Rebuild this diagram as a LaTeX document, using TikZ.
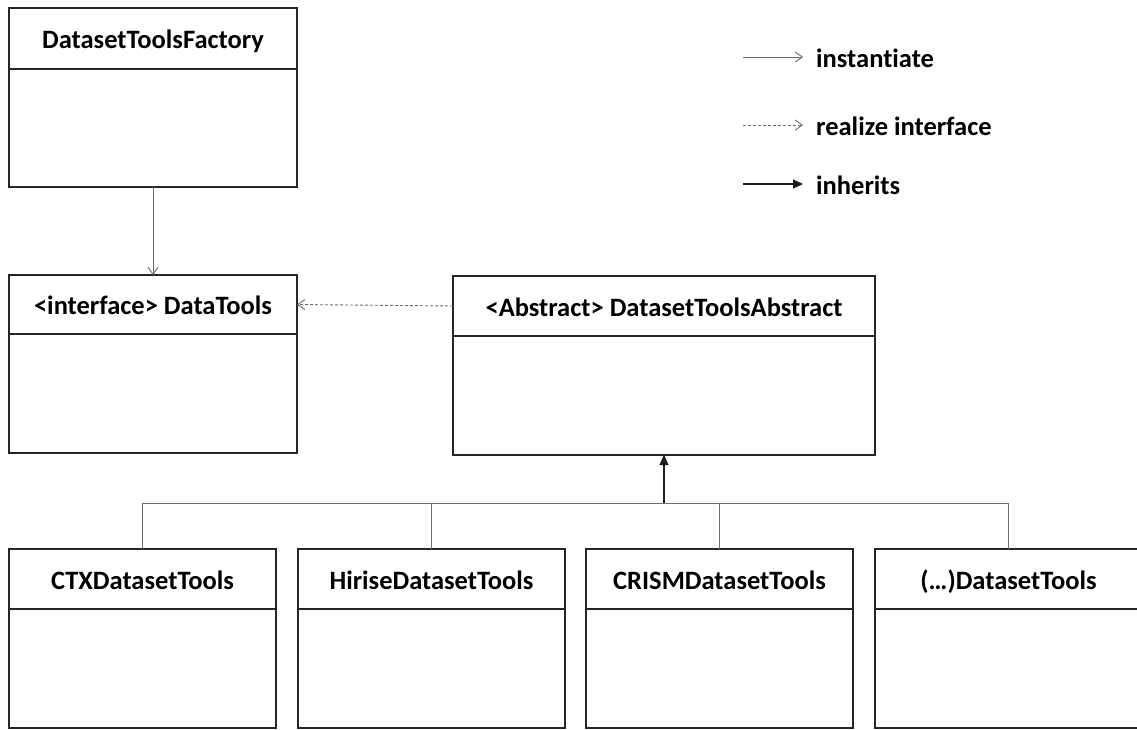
\documentclass[tikz,border=0pt]{standalone}
\usepackage{fontspec}
\setmainfont[Ligatures=NoCommon]{Carlito}
\usetikzlibrary{arrows.meta}
\definecolor{boxline}{HTML}{262626}
\definecolor{connline}{HTML}{6E6E6E}
\definecolor{inhline}{HTML}{1E1E1E}
\newcommand\umlclass[7]{%
  \node[classhead, minimum width=#4, minimum height=#5] (#1) at (#2,#3) {#7};
  \node[classbody, minimum width=#4, minimum height=#6] (#1-b) at (#1.south) {};
}
\begin{document}
\begin{tikzpicture}[x=1pt,y=-1pt,
  classhead/.style={draw=boxline, line width=1.3pt, fill=white, inner sep=0pt, outer sep=0pt,
    anchor=north west, text height=21pt, text depth=1pt,
    font=\bfseries\fontsize{26.5}{30}\selectfont},
  classbody/.style={draw=boxline, line width=1.3pt, inner sep=0pt, outer sep=0pt, anchor=north},
  inst/.style={draw=connline, line width=0.9pt, -{Straight Barb[length=7pt,width=10pt]}},
  real/.style={draw=connline, line width=0.9pt, dash pattern=on 3pt off 2pt,
    -{Straight Barb[length=7pt,width=10pt]}},
  inh/.style={draw=inhline, line width=1.1pt, -{Triangle[length=10pt,width=9pt]}},
  bus/.style={draw=connline, line width=0.9pt},
  legend/.style={anchor=west, inner sep=0pt, text height=21pt, text depth=1pt,
    font=\bfseries\fontsize{26.5}{30}\selectfont}]
\useasboundingbox[fill=white] (0,0) rectangle (1137,729);

% class boxes: name, left, top, width, header height, body height, title
\umlclass{fac}{9}{8}{288pt}{61pt}{118pt}{DatasetToolsFactory}
\umlclass{dt}{9}{275}{288pt}{59pt}{119pt}{<interface> DataTools}
\umlclass{abs}{453}{276}{422pt}{60pt}{119pt}{<Abstract> DatasetToolsAbstract}
\umlclass{ctx}{9}{549}{267pt}{60pt}{119pt}{CTXDatasetTools}
\umlclass{hir}{298}{549}{267pt}{60pt}{119pt}{HiriseDatasetTools}
\umlclass{cri}{586}{549}{267pt}{60pt}{119pt}{CRISMDatasetTools}
\umlclass{etc}{875}{549}{267pt}{60pt}{119pt}{(…)DatasetTools}

% relations
\draw[inst] (fac-b.south) -- (dt.north);
\draw[real] (abs.west) -- (dt.east);
\coordinate (busc) at (abs-b.south |- 0,503);
\draw[bus] (ctx.north) -- (ctx.north |- busc) -- (etc.north |- busc) -- (etc.north);
\draw[bus] (hir.north) -- (hir.north |- busc);
\draw[bus] (cri.north) -- (cri.north |- busc);
\draw[inh] (busc) -- (abs-b.south);

% legend
\node[legend] (l1) at (816,57) {instantiate};
\node[legend] (l2) at (816,125) {realize interface};
\node[legend] (l3) at (816,184) {inherits};
\coordinate (l1s) at (743,57);
\coordinate (l2s) at (743,125);
\coordinate (l3s) at (743,184);
\draw[inst] (l1s) -- ([xshift=-13pt]l1.west);
\draw[real] (l2s) -- ([xshift=-13pt]l2.west);
\draw[inh] (l3s) -- ([xshift=-13pt]l3.west);
\end{tikzpicture}
\end{document}
